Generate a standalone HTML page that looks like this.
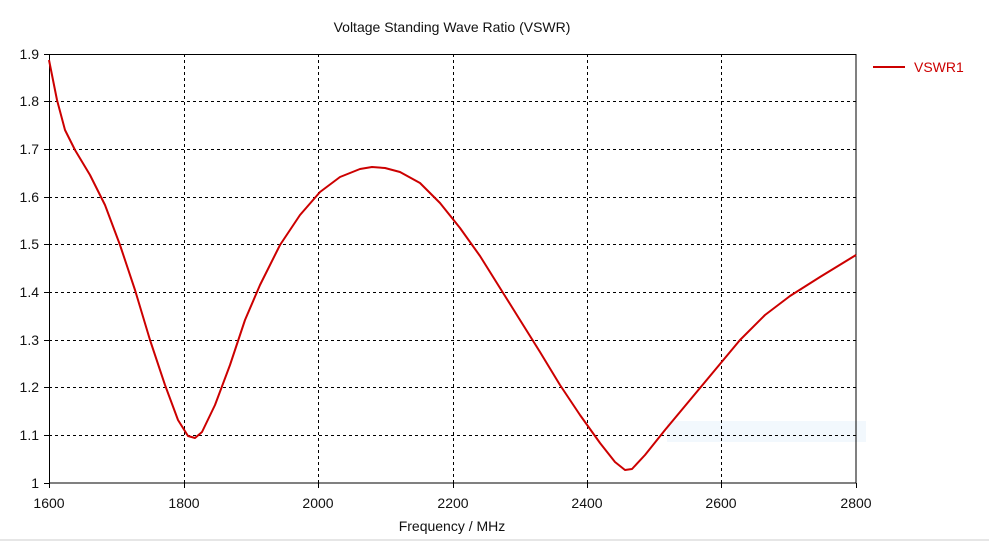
<!DOCTYPE html>
<html><head><meta charset="utf-8"><style>body{margin:0;background:#fff}svg{display:block}</style></head><body>
<svg width="989" height="541" xmlns="http://www.w3.org/2000/svg" font-family="Liberation Sans, sans-serif">
<rect width="989" height="541" fill="#fff"/>
<rect x="0" y="539" width="989" height="2" fill="#e6e6e6"/>
<text x="452" y="32" font-size="14" text-anchor="middle" fill="#111">Voltage Standing Wave Ratio (VSWR)</text>
<rect x="667" y="421" width="199" height="21" fill="#f2f8fd"/>
<g stroke="#000" stroke-width="1" stroke-dasharray="3,3" fill="none">
<path d="M184.5 54V483M318.5 54V483M453.5 54V483M587.5 54V483M721.5 54V483"/>
<path d="M49 101.5H856M49 149.5H856M49 197.5H856M49 244.5H856M49 292.5H856M49 340.5H856M49 387.5H856M49 435.5H856"/>
</g>
<rect x="49.5" y="54.5" width="806.5" height="428.5" fill="none" stroke="#000" stroke-width="1"/>
<g stroke="#000"><path d="M44 54.5H49M44 101.5H49M44 149.5H49M44 197.5H49M44 244.5H49M44 292.5H49M44 340.5H49M44 387.5H49M44 435.5H49M44 483.5H49"/>
<path d="M49.5 483V488M184.5 483V488M318.5 483V488M453.5 483V488M587.5 483V488M721.5 483V488M856.5 483V488"/></g>
<g font-size="14" fill="#111" text-anchor="end">
<text x="39" y="59">1.9</text><text x="39" y="106">1.8</text><text x="39" y="154">1.7</text><text x="39" y="202">1.6</text><text x="39" y="249">1.5</text><text x="39" y="297">1.4</text><text x="39" y="345">1.3</text><text x="39" y="392">1.2</text><text x="39" y="440">1.1</text><text x="39" y="488">1</text>
</g>
<g font-size="14" fill="#111" text-anchor="middle">
<text x="49" y="508">1600</text><text x="184" y="508">1800</text><text x="318" y="508">2000</text><text x="453" y="508">2200</text><text x="587" y="508">2400</text><text x="721" y="508">2600</text><text x="856" y="508">2800</text>
<text x="452" y="531">Frequency / MHz</text>
</g>
<path id="c" fill="none" stroke="#cc0000" stroke-width="2" stroke-linejoin="round" d="M49 60 L57 100 L65 130 L75 150 L90 175 L105 205 L120 245 L135 290 L150 340 L165 385 L178 420 L188 436 L195 438 L202 432 L215 405 L230 365 L245 320 L260 285 L280 245 L300 215 L320 192 L340 177 L360 169 L372 167 L385 168 L400 172 L420 183 L440 203 L460 228 L480 256 L500 288 L520 320 L540 352 L560 385 L580 415 L600 443 L615 462 L625 470 L632 469 L645 455 L665 430 L690 400 L715 370 L740 340 L765 315 L790 296 L820 277 L856 255"/>
<line x1="873" y1="67" x2="905" y2="67" stroke="#cc0000" stroke-width="2"/>
<text x="914" y="72" font-size="14" fill="#cc0000">VSWR1</text>
<script>
var p=[[49,60],[57,100],[65,130],[75,150],[90,175],[105,205],[120,245],[135,290],[150,340],[165,385],[178,420],[188,436],[195,438],[202,432],[215,405],[230,365],[245,320],[260,285],[280,245],[300,215],[320,192],[340,177],[360,169],[372,167],[385,168],[400,172],[420,183],[440,203],[460,228],[480,256],[500,288],[520,320],[540,352],[560,385],[580,415],[600,443],[615,462],[625,470],[632,469],[645,455],[665,430],[690,400],[715,370],[740,340],[765,315],[790,296],[820,277],[856,255]];
var d="M"+p[0];for(var i=0;i<p.length-1;i++){var a=p[i-1]||p[i],b=p[i],c=p[i+1],e=p[i+2]||c;
d+="C"+(b[0]+(c[0]-a[0])/6)+","+(b[1]+(c[1]-a[1])/6)+" "+(c[0]-(e[0]-b[0])/6)+","+(c[1]-(e[1]-b[1])/6)+" "+c[0]+","+c[1];}
document.getElementById("c").setAttribute("d",d);
</script>
</svg>
</body></html>
